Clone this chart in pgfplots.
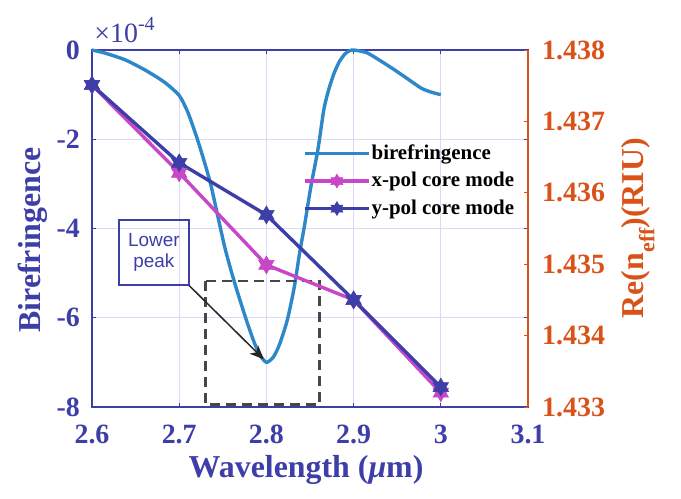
\documentclass[border=0pt]{standalone}
\usepackage{pgfplots}
\pgfplotsset{compat=1.18}
\usepackage{fontspec}
\setmainfont{Liberation Serif}
\newfontfamily\arialfont{Liberation Sans}
\usetikzlibrary{arrows.meta}

\definecolor{axblue}{RGB}{62,62,168}
\definecolor{rorange}{RGB}{217,83,25}
\definecolor{bircol}{RGB}{45,135,200}
\definecolor{xcol}{RGB}{200,70,200}
\definecolor{ycol}{RGB}{62,62,168}
\definecolor{gridc}{RGB}{218,218,248}
\newcommand\fs[1]{\fontsize{#1}{#1}\selectfont}
\newcommand\tl[1]{\textbf{#1}}

% six-pointed star like matlab's hexagram
\pgfdeclareplotmark{hexa}{%
  \pgfpathmoveto{\pgfqpointpolar{90}{\pgfplotmarksize}}%
  \pgfpathlineto{\pgfqpointpolar{210}{\pgfplotmarksize}}%
  \pgfpathlineto{\pgfqpointpolar{330}{\pgfplotmarksize}}%
  \pgfpathclose
  \pgfpathmoveto{\pgfqpointpolar{270}{\pgfplotmarksize}}%
  \pgfpathlineto{\pgfqpointpolar{30}{\pgfplotmarksize}}%
  \pgfpathlineto{\pgfqpointpolar{150}{\pgfplotmarksize}}%
  \pgfpathclose
  \pgfusepathqfillstroke}

\begin{document}
\begin{tikzpicture}
\begin{axis}[scale only axis,width=436bp,height=357bp,
  xmin=2.6,xmax=3.1,ymin=-8,ymax=0,
  axis line style={axblue,line width=1.6bp},
  xtick={2.6,2.7,2.8,2.9,3.0,3.1},xticklabels={\tl{2.6},\tl{2.7},\tl{2.8},\tl{2.9},\tl{3},\tl{3.1}},
  ytick={-8,-6,-4,-2,0},yticklabels={\tl{-8},\tl{-6},\tl{-4},\tl{-2},\tl{0}},
  tick align=inside,major tick length=4bp,tick style={axblue,line width=0.9bp},
  grid=major,major grid style={gridc,line width=0.9bp},
  ticklabel style={font=\fs{28}\bfseries,text=axblue,inner sep=0pt},
  yticklabel style={xshift=-12bp},
  xticklabel style={yshift=-18bp},
  xlabel={Wavelength ({\itshape μ}m)},
  xlabel style={font=\fs{32}\bfseries,text=axblue,at={(axis description cs:0.491,-0.176)},anchor=center},
  ylabel={Birefringence},
  ylabel style={font=\fs{32}\bfseries,text=axblue,at={(axis description cs:-0.135,0.468)},anchor=center,rotate=0},
  clip=false]
\addplot[bircol,line width=3.4bp,smooth,tension=0.4] coordinates {
(2.600,0) (2.615,-0.07) (2.638,-0.22) (2.661,-0.45) (2.683,-0.72) (2.700,-1.02)
(2.710,-1.40) (2.720,-1.95) (2.728,-2.45) (2.736,-3.00) (2.744,-3.70) (2.752,-4.40)
(2.760,-4.98) (2.768,-5.50) (2.777,-6.05) (2.785,-6.50) (2.792,-6.82) (2.800,-7.00)
(2.808,-6.88) (2.815,-6.60) (2.824,-6.05) (2.832,-5.31) (2.838,-4.56) (2.844,-3.90)
(2.851,-3.06) (2.859,-2.24) (2.866,-1.32) (2.872,-0.85) (2.878,-0.50) (2.884,-0.25)
(2.890,-0.09) (2.895,-0.02) (2.900,0) (2.915,-0.06) (2.929,-0.22) (2.945,-0.42)
(2.960,-0.62) (2.978,-0.86) (2.990,-0.95) (3.000,-1.00)};
\draw[black!72,line width=2.4bp,dash pattern=on 10bp off 6bp] (axis cs:2.730,-5.18) rectangle (axis cs:2.861,-7.94);
\node[draw=axblue,line width=1.3bp,text=axblue,font=\arialfont\fs{19},align=center,
  minimum width=70bp,minimum height=65bp,inner sep=0pt] at (axis cs:2.671,-4.54) {Lower\\[2bp]peak};
\draw[-{Stealth[length=14bp,width=12bp,inset=4bp]},black!85,line width=1.5bp] (axis cs:2.711,-5.27) -- (axis cs:2.797,-6.93);
\node[anchor=south west,font=\fs{28},text=axblue,inner sep=0pt] at (rel axis cs:0.005,1.02) {×10\raisebox{0.42em}{\fs{20}-4}};
\coordinate (bl) at (rel axis cs:0,0);
\coordinate (tr) at (rel axis cs:1,1);
\end{axis}
\begin{axis}[scale only axis,width=436bp,height=357bp,
  xmin=2.6,xmax=3.1,ymin=1.433,ymax=1.438,
  axis x line=none,axis y line*=right,
  y axis line style={rorange,line width=1.6bp},
  ytick={1.433,1.434,1.435,1.436,1.437,1.438},
  yticklabels={\tl{1.433},\tl{1.434},\tl{1.435},\tl{1.436},\tl{1.437},\tl{1.438}},
  tick align=inside,major tick length=4bp,tick style={rorange,line width=0.9bp},
  ticklabel style={font=\fs{28}\bfseries,text=rorange,inner sep=0pt},
  yticklabel style={xshift=14bp},
  ylabel={Re(n\raisebox{-0.35em}{\fs{22}eff})(RIU)},
  ylabel style={font=\fs{32}\bfseries,text=rorange,at={(axis description cs:1.252,0.501)},anchor=center,rotate=0},
  legend style={at={(axis description cs:0.484,0.740)},anchor=north west,draw=none,fill=none,
    font=\fs{21}\bfseries,inner sep=0pt,row sep=6.5bp,
    nodes={inner sep=1bp,text height=15bp,text depth=4bp}},
  legend cell align=left,
  legend image code/.code={\draw[#1,mark repeat=2,mark phase=2,mark size=7bp] plot coordinates {(0bp,0bp) (32bp,0bp) (64bp,0bp)};},
  clip=false]
\addlegendimage{bircol,line width=3.4bp}
\addlegendentry{birefringence}
\addplot[xcol,line width=3.4bp,mark=hexa,mark size=9bp,mark options={fill=xcol,draw=xcol,line width=0.5bp}] coordinates {
(2.6,1.43751) (2.7,1.43628) (2.8,1.43499) (2.9,1.43450) (3.0,1.43320)};
\addlegendentry{x-pol core mode}
\addplot[ycol,line width=3.4bp,mark=hexa,mark size=9bp,mark options={fill=ycol,draw=ycol,line width=0.5bp}] coordinates {
(2.6,1.43751) (2.7,1.43642) (2.8,1.43569) (2.9,1.43450) (3.0,1.43328)};
\addlegendentry{y-pol core mode}
\end{axis}
\pgfresetboundingbox
\path ([shift={(-92bp,-91bp)}]bl) rectangle ([shift={(153bp,50bp)}]tr);
\end{tikzpicture}
\end{document}
